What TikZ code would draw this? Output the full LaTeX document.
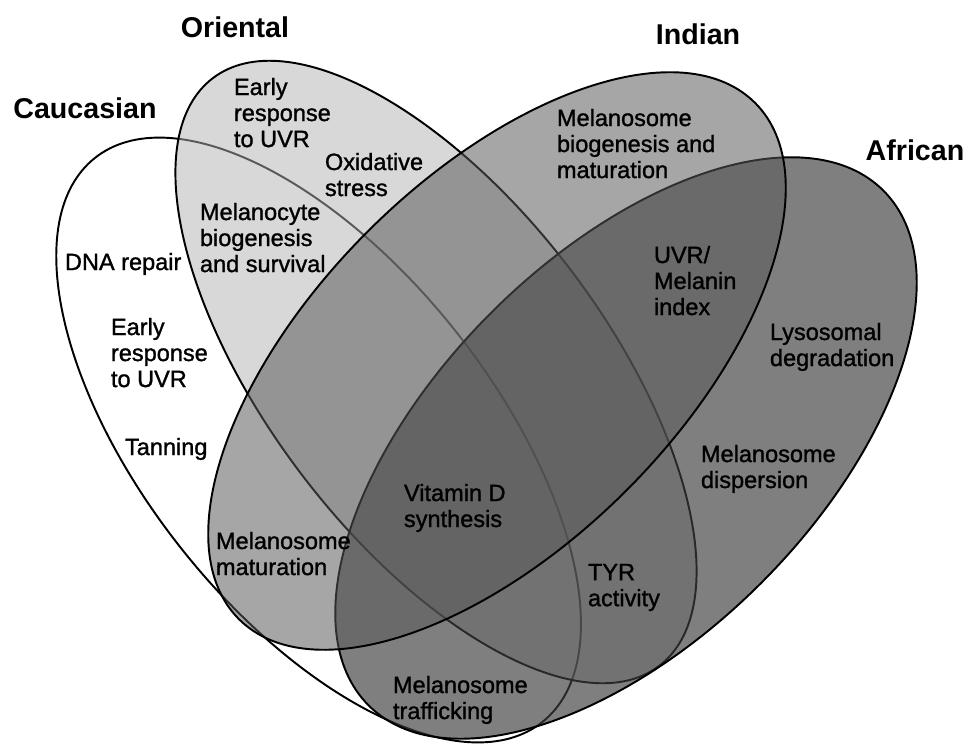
\documentclass[tikz,border=0pt]{standalone}
\usepackage{fontspec}
\setmainfont{Liberation Sans}[Ligatures=CommonOff]
\newfontfamily\itemfont{Liberation Sans}[Ligatures=CommonOff,FakeBold=1.2]
\usepackage{tikz}

\definecolor{orientfill}{gray}{0.70}
\definecolor{indfill}{gray}{0.35}
\definecolor{afrfill}{gray}{0.243}

\begin{document}
\begin{tikzpicture}[x=0.02cm,y=-0.02cm,line width=1.1pt,
  set/.style={draw=black,line width=1.1pt},
  title node/.style={inner sep=0pt,font=\fontsize{16.3}{19}\selectfont\bfseries},
  item node/.style={anchor=north west,align=left,inner sep=0pt,font=\fontsize{13.4}{14.8}\itemfont}]

  \useasboundingbox (0,0) rectangle (966,748);
  \fill[white] (0,0) rectangle (966,748);

  \draw[set,fill=white,rotate around={-51.6:(318.6,440)}] (318.6,440) ellipse [x radius=360,y radius=175];
  \draw[set,fill=orientfill,fill opacity=0.5,rotate around={-52.8:(436,372)}] (436,372) ellipse [x radius=369,y radius=169];
  \draw[set,fill=afrfill,fill opacity=0.658,rotate around={45:(626,448)}] (626,448) ellipse [x radius=364,y radius=191];
  \draw[set,fill=indfill,fill opacity=0.535,rotate around={45:(497,361)}] (497,361) ellipse [x radius=365,y radius=183];

  \node[title node] (orient) at (235,27) {Oriental};
  \node[title node] (cauc) at (85,108) {Caucasian};
  \node[title node] (ind) at (698,34) {Indian};
  \node[title node] (afr) at (915,150) {African};

  \node[item node] (uvr1) at (233,77) {Early\\response\\to UVR};
  \node[item node] (oxid) at (324,152) {Oxidative\\stress};
  \node[item node] (mcyte) at (199,202) {Melanocyte\\biogenesis\\and survival};
  \node[item node] (dna) at (64,252) {DNA repair};
  \node[item node] (uvr2) at (110,317) {Early\\response\\to UVR};
  \node[item node] (tan) at (124,437) {Tanning};
  \node[item node] (mmat) at (215,531) {Melanosome\\maturation};
  \node[item node] (mbio) at (556,108) {Melanosome\\biogenesis and\\maturation};
  \node[item node] (mindex) at (653,245) {UVR/\\Melanin\\index};
  \node[item node] (lyso) at (769,322) {Lysosomal\\degradation};
  \node[item node] (mdisp) at (700,444) {Melanosome\\dispersion};
  \node[item node] (vitd) at (403,483) {Vitamin D\\synthesis};
  \node[item node] (tyr) at (587,563) {TYR\\activity};
  \node[item node] (mtraf) at (392,675) {Melanosome\\trafficking};

\end{tikzpicture}
\end{document}
